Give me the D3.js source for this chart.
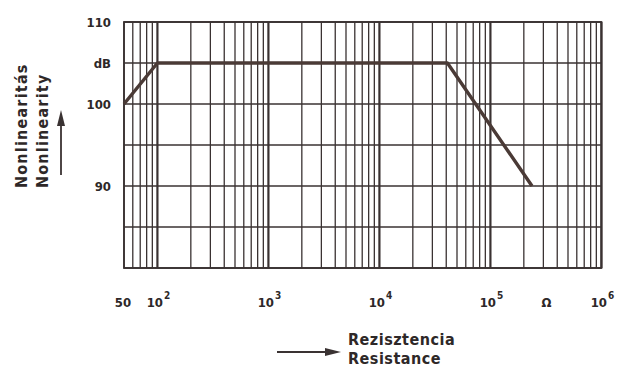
<!DOCTYPE html>
<html>
<head>
<meta charset="utf-8">
<script src="https://cdn.jsdelivr.net/npm/d3@7"></script>
<style>
  body { margin: 0; background: #fff; }
  text { font-family: "DejaVu Sans", sans-serif; font-stretch: condensed; font-weight: bold; fill: #2e2828; }
</style>
</head>
<body>
<script>
// curve points (resistance in ohm, nonlinearity in dB)
var resistance = [50, 100, 41000, 237000];
var nonlinearity = [100, 105, 105, 90];

// tick labels
var yTickVals = [110, 105, 100, 90];
var yTickLabels = ['110', 'dB', '100', '90'];
var xTickVals = [50, 1e2, 1e3, 1e4, 1e5, 1e6];
var xTickBase = ['50', '10', '10', '10', '10', '10'];
var xTickExp = ['', '2', '3', '4', '5', '6'];
var unitVal = 3.2e5, unitLabel = 'Ω';

function draw_chart() {
  var W = 617, H = 377;
  var padLeft = 124, padTop = 22, padBottom = 268;
  var decade = 111;
  var padRight = padLeft + Math.log10(1e6 / 50) * decade;
  var ink = '#3a3232';

  var svg = d3.select('body').append('svg')
    .attr('width', W)
    .attr('height', H);

  var x = d3.scaleLog().domain([50, 1e6]).range([padLeft, padRight]);
  var y = d3.scaleLinear().domain([80, 110]).range([padBottom, padTop]);

  // grid
  var g = svg.append('g').attr('id', 'grid');
  g.selectAll('.vline').data(x.ticks())
    .enter().append('line')
      .attr('x1', d => x(d)).attr('x2', d => x(d))
      .attr('y1', padTop).attr('y2', padBottom)
      .attr('stroke', ink)
      .attr('stroke-width', d => Math.abs(Math.log10(d) - Math.round(Math.log10(d))) < 1e-9 ? 2.2 : 1.3);
  g.selectAll('.hline').data(y.ticks(6))
    .enter().append('line')
      .attr('x1', padLeft).attr('x2', padRight)
      .attr('y1', d => y(d)).attr('y2', d => y(d))
      .attr('stroke', ink)
      .attr('stroke-width', 1.6);
  g.append('rect')
    .attr('x', padLeft).attr('y', padTop)
    .attr('width', padRight - padLeft).attr('height', padBottom - padTop)
    .attr('fill', 'none').attr('stroke', ink).attr('stroke-width', 1.8);

  // curve
  var pts = resistance.map((r, i) => [r, nonlinearity[i]]);
  svg.append('path')
    .datum(pts)
    .attr('d', d3.line().x(d => x(d[0])).y(d => y(d[1])))
    .attr('fill', 'none')
    .attr('stroke', '#4a3a36')
    .attr('stroke-width', 3.4)
    .attr('stroke-linejoin', 'round');

  // y tick labels
  svg.selectAll('.ylab').data(yTickVals)
    .enter().append('text')
      .attr('x', 111)
      .attr('y', d => y(d) + 5)
      .attr('text-anchor', 'end')
      .style('font-size', '13px')
      .text((d, i) => yTickLabels[i]);

  // x tick labels
  var xl = svg.selectAll('.xlab').data(xTickVals)
    .enter().append('text')
      .attr('x', d => x(d) + (d === 50 ? -1 : 1))
      .attr('y', 307)
      .attr('text-anchor', 'middle')
      .style('font-size', '13px');
  xl.append('tspan').text((d, i) => xTickBase[i]);
  xl.append('tspan')
    .attr('dx', 1)
    .attr('dy', -8)
    .style('font-size', '10px')
    .text((d, i) => xTickExp[i]);
  svg.append('text')
    .attr('x', x(unitVal)).attr('y', 307)
    .attr('text-anchor', 'middle')
    .style('font-size', '13px')
    .text(unitLabel);

  // y axis title
  svg.append('text').text('Nonlinearitás')
    .attr('transform', 'translate(27,188) rotate(270)')
    .style('font-size', '16px')
    .style('letter-spacing', '1.2px');
  svg.append('text').text('Nonlinearity')
    .attr('transform', 'translate(48,188) rotate(270)')
    .style('font-size', '16px')
    .style('letter-spacing', '1.2px');
  svg.append('line')
    .attr('x1', 61).attr('x2', 61).attr('y1', 175).attr('y2', 122)
    .attr('stroke', ink).attr('stroke-width', 1.8);
  svg.append('path')
    .attr('d', 'M61,110 L57,126 L65,126 Z')
    .attr('fill', ink);

  // x axis title
  svg.append('text').text('Rezisztencia')
    .attr('x', 348).attr('y', 345)
    .style('font-size', '16px')
    .style('letter-spacing', '0.5px');
  svg.append('text').text('Resistance')
    .attr('x', 348).attr('y', 364)
    .style('font-size', '16px')
    .style('letter-spacing', '0.5px');
  svg.append('line')
    .attr('x1', 277).attr('x2', 326).attr('y1', 352).attr('y2', 352)
    .attr('stroke', ink).attr('stroke-width', 1.8);
  svg.append('path')
    .attr('d', 'M341,352 L325,348 L325,356 Z')
    .attr('fill', ink);
}
draw_chart();
</script>
</body>
</html>
